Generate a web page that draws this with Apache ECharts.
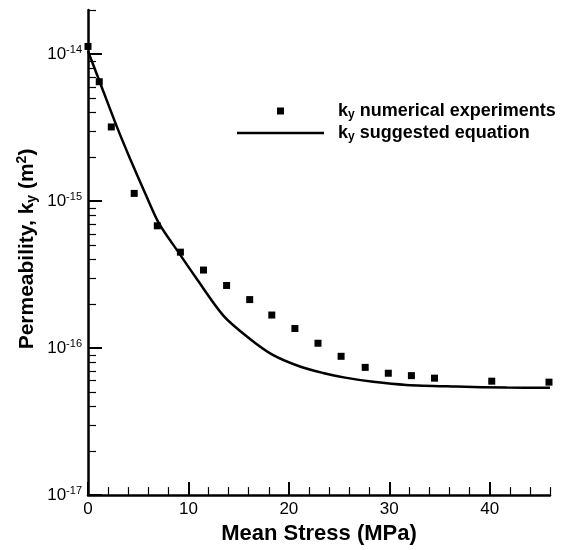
<!DOCTYPE html>
<html>
<head>
<meta charset="utf-8">
<script src="https://cdn.jsdelivr.net/npm/echarts@6/dist/echarts.min.js"></script>
<style>
  html, body { margin: 0; padding: 0; background: #fff; }
  #chart { width: 568px; height: 550px; }
</style>
</head>
<body>
<div id="chart"></div>
<script>
// Permeability k_y from the numerical experiments (mean stress in MPa, k_y in m^2)
const expStress = [0, 1.12, 2.32, 4.6, 6.9, 9.2, 11.5, 13.8, 16.1, 18.3, 20.6, 22.9, 25.2, 27.6, 29.9, 32.2, 34.5, 40.2, 45.9];
const expK = [1.13e-14, 6.5e-15, 3.2e-15, 1.13e-15, 6.8e-16, 4.5e-16, 3.4e-16, 2.67e-16, 2.14e-16, 1.68e-16, 1.36e-16, 1.08e-16, 8.8e-17, 7.4e-17, 6.75e-17, 6.5e-17, 6.25e-17, 5.96e-17, 5.87e-17];

// Suggested equation, sampled along its curve
const eqStress = [0, 1.2, 2.9, 4.2, 5.7, 7.1, 9.0, 10.7, 13.5, 16.1, 18.4, 21.1, 23.4, 25.6, 28.4, 31.7, 36.7, 41.7, 46];
const eqK = [1.05e-14, 6.4e-15, 3.18e-15, 1.94e-15, 1.13e-15, 7.0e-16, 4.5e-16, 3.05e-16, 1.66e-16, 1.16e-16, 9.0e-17, 7.5e-17, 6.78e-17, 6.3e-17, 5.9e-17, 5.62e-17, 5.48e-17, 5.39e-17, 5.37e-17];

// Axis ticks
const xMajorTicks = [0, 10, 20, 30, 40];
const xMinorTicks = [2, 4, 6, 8, 12, 14, 16, 18, 22, 24, 26, 28, 32, 34, 36, 38, 42, 44, 46];
const yMajorTicks = [1e-17, 1e-16, 1e-15, 1e-14];
const yMinorMantissas = [2, 3, 4, 5, 6, 7, 8, 9];
const yMinorDecades = [-17, -16, -15];

const yMinorTicks = [];
yMinorDecades.forEach(function (e) {
  yMinorMantissas.forEach(function (m) { yMinorTicks.push(m * Math.pow(10, e)); });
});
yMinorTicks.push(2e-14);

const FONT = 'Liberation Sans, Arial, Helvetica, sans-serif';
const nameExp = 'ky numerical experiments';
const nameEq = 'ky suggested equation';

const chart = echarts.init(document.getElementById('chart'), null, { renderer: 'canvas' });

const axisLineStyle = { color: '#000', width: 2.5 };

chart.setOption({
  animation: false,
  backgroundColor: '#fff',
  grid: { left: 88, right: 18, top: 10, bottom: 52, containLabel: false },
  legend: {
    orient: 'vertical',
    left: 237,
    top: 102,
    padding: 0,
    itemWidth: 87,
    itemHeight: 7,
    itemGap: 3,
    selectedMode: false,
    data: [
      { name: nameExp, icon: 'path://M0 0H10V10H0Z', itemStyle: { color: '#000', opacity: 1 } },
      { name: nameEq, icon: 'path://M0 0H87V2.6H0Z', itemStyle: { color: '#000', opacity: 1 } }
    ],
    formatter: function (name) {
      const rest = name === nameExp ? ' numerical experiments' : ' suggested equation';
      return '{k|k}{s|y}{t|' + rest + '}';
    },
    textStyle: {
      rich: {
        k: { fontFamily: FONT, fontSize: 18, fontWeight: 'bold', color: '#000', lineHeight: 20, padding: [0, 0, 0, 9] },
        s: { fontFamily: FONT, fontSize: 12, fontWeight: 'bold', color: '#000', lineHeight: 10, verticalAlign: 'bottom' },
        t: { fontFamily: FONT, fontSize: 18, fontWeight: 'bold', color: '#000', lineHeight: 20 }
      }
    }
  },
  xAxis: [
    {
      type: 'value',
      min: 0,
      max: 46,
      interval: 10,
      position: 'bottom',
      name: 'Mean Stress (MPa)',
      nameLocation: 'middle',
      nameGap: 21,
      nameTextStyle: { fontFamily: FONT, fontSize: 22, fontWeight: 'bold', color: '#000' },
      axisLine: { onZero: false, lineStyle: axisLineStyle },
      axisTick: { inside: true, length: 13, customValues: xMajorTicks, lineStyle: { color: '#000', width: 2 } },
      axisLabel: { customValues: xMajorTicks, fontFamily: FONT, fontSize: 17, color: '#000', margin: 6 },
      splitLine: { show: false }
    },
    {
      type: 'value',
      min: 0,
      max: 46,
      position: 'bottom',
      axisLine: { show: false },
      axisTick: { inside: true, length: 8, customValues: xMinorTicks, lineStyle: { color: '#000', width: 1.2 } },
      axisLabel: { show: false },
      splitLine: { show: false }
    }
  ],
  yAxis: [
    {
      type: 'log',
      logBase: 10,
      min: 1e-17,
      max: 2e-14,
      position: 'left',
      axisLine: { onZero: false, lineStyle: axisLineStyle },
      axisTick: { inside: true, length: 14, customValues: yMajorTicks, lineStyle: { color: '#000', width: 2 } },
      axisLabel: {
        customValues: yMajorTicks,
        margin: 6,
        formatter: function (v) {
          const e = Math.round(Math.log10(v));
          return '{b|10}{s|' + e + '}';
        },
        rich: {
          b: { fontFamily: FONT, fontSize: 17, color: '#000', lineHeight: 20 },
          s: { fontFamily: FONT, fontSize: 11, color: '#000', lineHeight: 8, verticalAlign: 'top' }
        }
      },
      splitLine: { show: false }
    },
    {
      type: 'log',
      logBase: 10,
      min: 1e-17,
      max: 2e-14,
      position: 'left',
      axisLine: { show: false },
      axisTick: { inside: true, length: 8, customValues: yMinorTicks, lineStyle: { color: '#000', width: 1.2 } },
      axisLabel: { show: false },
      splitLine: { show: false }
    }
  ],
  graphic: [
    {
      type: 'text',
      x: 27,
      y: 249,
      rotation: Math.PI / 2,
      style: {
        text: '{b|Permeability, k}{sub|y}{b| (m}{sup|2}{b|)}',
        align: 'center',
        verticalAlign: 'middle',
        rich: {
          b: { fontFamily: FONT, fontSize: 21, fontWeight: 'bold', fill: '#000', lineHeight: 24 },
          sub: { fontFamily: FONT, fontSize: 14, fontWeight: 'bold', fill: '#000', lineHeight: 12, verticalAlign: 'bottom' },
          sup: { fontFamily: FONT, fontSize: 14, fontWeight: 'bold', fill: '#000', lineHeight: 10, verticalAlign: 'top' }
        }
      }
    }
  ],
  series: [
    {
      name: nameExp,
      type: 'scatter',
      xAxisIndex: 0,
      yAxisIndex: 0,
      symbol: 'rect',
      symbolSize: 7,
      clip: false,
      itemStyle: { color: '#000', opacity: 1 },
      data: expStress.map(function (x, i) { return [x, expK[i]]; })
    },
    {
      name: nameEq,
      type: 'line',
      xAxisIndex: 0,
      yAxisIndex: 0,
      symbol: 'none',
      smooth: 0.3,
      itemStyle: { color: '#000' },
      lineStyle: { color: '#000', width: 2.5 },
      data: eqStress.map(function (x, i) { return [x, eqK[i]]; })
    }
  ]
});
</script>
</body>
</html>
